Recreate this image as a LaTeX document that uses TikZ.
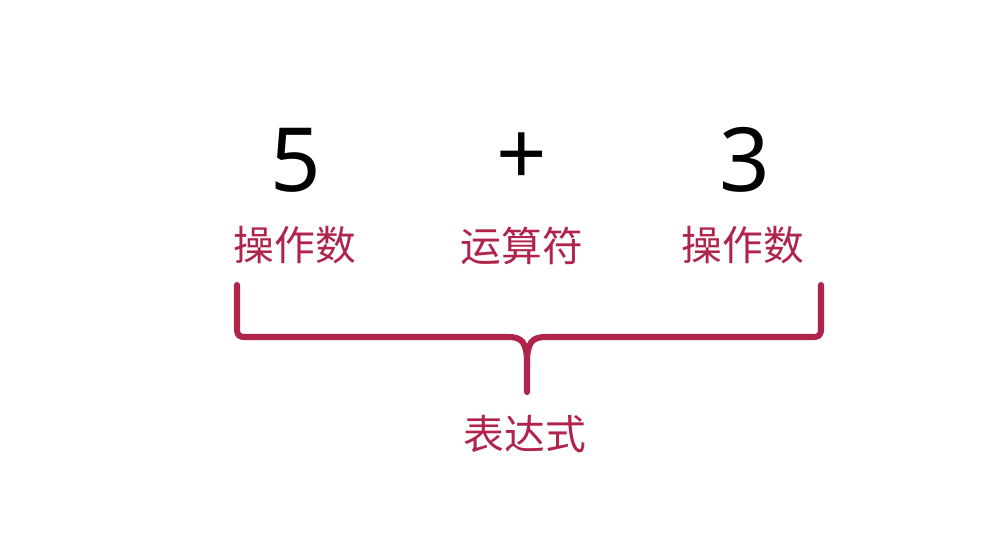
\documentclass[tikz,border=0pt]{standalone}
\usepackage{fontspec}
\setmainfont{Noto Sans}
\newfontfamily\cjk{Noto Sans CJK SC}
\definecolor{bracered}{RGB}{176,36,76}

\begin{document}
\begin{tikzpicture}[x=0.025cm,y=-0.025cm]
    \tikzset{
        num/.style={inner sep=0pt, font=\fontsize{63}{63}\selectfont},
        lbl/.style={inner sep=0pt, text=bracered, font=\cjk\fontsize{29}{29}\selectfont},
        braceline/.style={draw=bracered, line width=4.3pt, line cap=round, line join=round}
    }
    \useasboundingbox (0,0) rectangle (984,544);

    % operands and operator
    \node[num] (five) at (296,160) {5};
    \node[num] (plus) at (522,159) {+};
    \node[num] (three) at (745,160) {3};

    \node[lbl] (opl) at (295,245) {操作数};
    \node[lbl] (op) at (522,246) {运算符};
    \node[lbl] (opr) at (743,245) {操作数};

    % brace
    \coordinate (bl) at (237,285);
    \coordinate (br) at (821,285);
    \coordinate (tip) at (527,392);
    \draw[braceline] (bl) -- (237,328) .. controls (237,336) and (239,337) .. (246,337)
        -- (508,337) .. controls (522,337) and (527,342) .. (527,364) -- (tip);
    \draw[braceline] (br) -- (821,328) .. controls (821,336) and (819,337) .. (812,337)
        -- (546,337) .. controls (532,337) and (527,342) .. (527,364);

    \node[lbl] (expr) at (525,434) {表达式};
\end{tikzpicture}
\end{document}
